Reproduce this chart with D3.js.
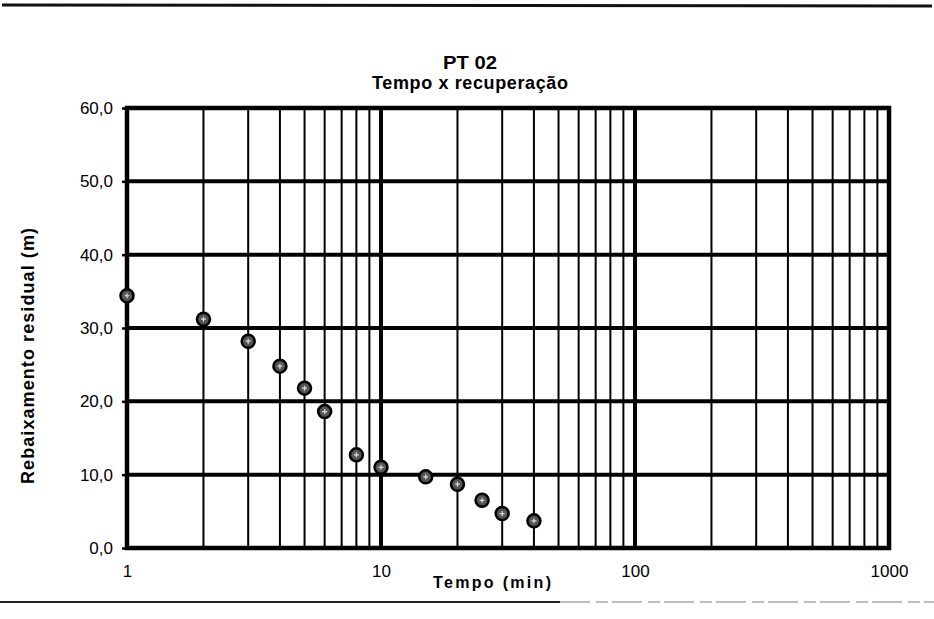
<!DOCTYPE html>
<html lang="pt">
<head>
<meta charset="utf-8">
<title>PT 02 - Tempo x recuperação</title>
<script src="https://d3js.org/d3.v7.min.js"></script>
<style>
  body { margin: 0; background: #fff; font-family: "Liberation Sans", Arial, sans-serif; }
  svg { display: block; }
</style>
</head>
<body>
<div id="chart"></div>
<script>
// tempo (min) e rebaixamento residual (m)
var tempo = [1, 2, 3, 4, 5, 6, 8, 10, 15, 20, 25, 30, 40]
var rebaixamento = [34.4, 31.2, 28.2, 24.8, 21.8, 18.6, 12.7, 11.0, 9.7, 8.7, 6.5, 4.7, 3.7]
var yTicks = [0, 10, 20, 30, 40, 50, 60]
var xTicks = [1, 10, 100, 1000]

var w = 934, h = 619
// plot area ("top" is reserved on window, so use pTop etc)
var pLeft = 127, pRight = 889, pTop = 108, pBottom = 548
var font = "Liberation Sans, Arial, sans-serif"

var svg = d3.select("#chart").append("svg")
  .attr("width", w).attr("height", h)

var x = d3.scaleLog().domain([1, 1000]).range([pLeft, pRight])
var y = d3.scaleLinear().domain([0, 60]).range([pBottom, pTop])

// scan edge lines
svg.append("line").attr("x1", 2).attr("x2", w - 2).attr("y1", 5).attr("y2", 6)
  .attr("stroke", "#111").attr("stroke-width", 3)
svg.append("line").attr("x1", 0).attr("x2", 560).attr("y1", 602).attr("y2", 602)
  .attr("stroke", "#222").attr("stroke-width", 2)
svg.append("line").attr("x1", 560).attr("x2", w).attr("y1", 602).attr("y2", 602)
  .attr("stroke", "#aaa").attr("stroke-width", 1.5).attr("stroke-dasharray", "30,6,12,4")

// titles
svg.append("text").attr("x", 470).attr("y", 69)
  .attr("text-anchor", "middle").attr("font-weight", "bold").attr("font-size", 19)
  .attr("textLength", 54).attr("lengthAdjust", "spacingAndGlyphs")
  .text("PT 02")
svg.append("text").attr("x", 470).attr("y", 89)
  .attr("text-anchor", "middle").attr("font-weight", "bold").attr("font-size", 18)
  .attr("textLength", 196).attr("lengthAdjust", "spacing")
  .text("Tempo x recuperação")

// minor vertical grid (2..9 per decade)
var minor = []
for (var d = 1; d < 1000; d *= 10) {
  for (var k = 2; k <= 9; k++) minor.push(d * k)
}
svg.append("g").selectAll("line").data(minor).enter().append("line")
  .attr("x1", function(v){ return x(v) }).attr("x2", function(v){ return x(v) })
  .attr("y1", pTop).attr("y2", pBottom)
  .attr("stroke", "#000").attr("stroke-width", 2)

// major vertical grid
svg.append("g").selectAll("line").data([10, 100]).enter().append("line")
  .attr("x1", function(v){ return x(v) }).attr("x2", function(v){ return x(v) })
  .attr("y1", pTop).attr("y2", pBottom)
  .attr("stroke", "#000").attr("stroke-width", 4)

// horizontal grid
svg.append("g").selectAll("line").data(yTicks).enter().append("line")
  .attr("x1", pLeft).attr("x2", pRight)
  .attr("y1", function(v){ return y(v) }).attr("y2", function(v){ return y(v) })
  .attr("stroke", "#000").attr("stroke-width", 4)

// plot frame
svg.append("rect").attr("x", pLeft).attr("y", pTop)
  .attr("width", pRight - pLeft).attr("height", pBottom - pTop)
  .attr("fill", "none").attr("stroke", "#000").attr("stroke-width", 4.5)

// y axis
var yAxis = d3.axisLeft(y).tickValues(yTicks).tickSize(5).tickPadding(9)
  .tickFormat(function(v){ return d3.format(".1f")(v).replace(".", ",") })
var gy = svg.append("g").attr("transform", "translate(" + pLeft + ",0)").call(yAxis)
gy.select(".domain").remove()
gy.selectAll("line").attr("stroke", "#000").attr("stroke-width", 2.5)
gy.selectAll("text").attr("font-size", 17).attr("font-family", font).attr("fill", "#000")

// x axis
var xAxis = d3.axisBottom(x).tickValues(xTicks).tickSize(0).tickPadding(17)
  .tickFormat(d3.format("d"))
var gx = svg.append("g").attr("transform", "translate(0," + pBottom + ")").call(xAxis)
gx.select(".domain").remove()
gx.selectAll("text").attr("font-size", 17).attr("font-family", font).attr("fill", "#000")

// axis titles
svg.append("text").attr("x", 492).attr("y", 588)
  .attr("text-anchor", "middle").attr("font-weight", "bold").attr("font-size", 16)
  .attr("textLength", 118).attr("lengthAdjust", "spacing")
  .text("Tempo (min)")
svg.append("text")
  .attr("transform", "translate(34,356) rotate(-90)")
  .attr("text-anchor", "middle").attr("font-weight", "bold").attr("font-size", 18)
  .attr("textLength", 256).attr("lengthAdjust", "spacing")
  .text("Rebaixamento residual (m)")

// points
var pts = svg.append("g").selectAll("g").data(tempo).enter().append("g")
  .attr("transform", function(t, i){ return "translate(" + x(t) + "," + y(rebaixamento[i]) + ")" })
pts.append("circle").attr("r", 6.5)
  .attr("fill", "#555").attr("stroke", "#000").attr("stroke-width", 2.5)
pts.append("path").attr("d", "M-2.5,0H2.5M0,-2.5V2.5")
  .attr("stroke", "#ddd").attr("stroke-width", 1.2)
</script>
</body>
</html>
